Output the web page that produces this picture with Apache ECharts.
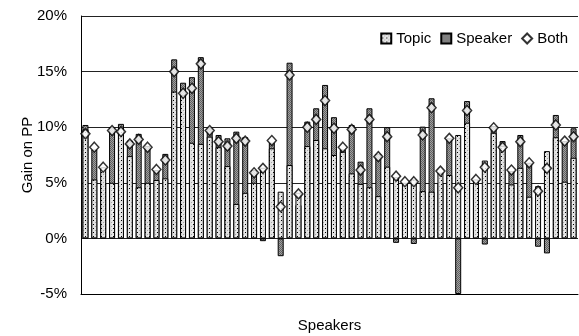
<!DOCTYPE html>
<html>
<head>
<meta charset="utf-8">
<script src="https://cdn.jsdelivr.net/npm/echarts@6/dist/echarts.min.js"></script>
<style>
  html, body { margin: 0; padding: 0; background: #fff; }
  #chart { width: 579px; height: 336px; }
</style>
</head>
<body>
<div id="chart"></div>
<script>
// one bar group per speaker (no labels on the x axis)
const speakers = [
    'S1', 'S2', 'S3', 'S4', 'S5', 'S6', 'S7', 'S8', 'S9', 'S10', 'S11', 'S12', 'S13', 'S14',
    'S15', 'S16', 'S17', 'S18', 'S19', 'S20', 'S21', 'S22', 'S23', 'S24', 'S25', 'S26', 'S27', 'S28',
    'S29', 'S30', 'S31', 'S32', 'S33', 'S34', 'S35', 'S36', 'S37', 'S38', 'S39', 'S40', 'S41', 'S42',
    'S43', 'S44', 'S45', 'S46', 'S47', 'S48', 'S49', 'S50', 'S51', 'S52', 'S53', 'S54', 'S55', 'S56'
];

// gain in %
const topicGain = [
    9.8, 5.3, 6.4, 5.0, 9.9, 7.4, 4.6, 5.0, 5.25, 5.4, 13.2, 12.9, 8.6, 8.5,
    9.15, 8.2, 6.5, 3.1, 4.1, 5.0, 6.35, 8.1, 4.2, 6.6, 4.1, 8.3, 8.85, 8.1,
    7.5, 7.8, 5.85, 4.9, 4.6, 3.8, 6.45, 5.5, 5.0, 5.3, 4.25, 4.2, 5.9, 5.7,
    9.3, 10.4, 5.3, 7.0, 9.5, 8.3, 4.85, 6.35, 3.75, 4.7, 7.85, 9.1, 5.1, 7.25
];
const speakerGain = [
    10.2, 8.0, 5.0, 10.0, 10.3, 8.8, 9.4, 8.3, 6.15, 7.6, 16.1, 14.0, 14.5, 16.3,
    9.9, 9.3, 9.0, 9.6, 9.1, 6.15, -0.25, 8.6, -1.6, 15.8, 3.0, 10.5, 11.7, 13.8,
    10.9, 8.0, 10.2, 6.9, 11.7, 7.6, 10.0, -0.4, 4.5, -0.5, 10.05, 12.6, 5.0, 9.0,
    -5.0, 12.35, 4.8, -0.55, 10.1, 8.75, 6.05, 9.3, 6.8, -0.75, -1.35, 11.1, 8.75, 9.9
];
const bothGain = [
    9.4, 8.2, 6.4, 9.7, 9.6, 8.5, 8.9, 8.2, 6.2, 7.05, 15.0, 13.05, 13.5, 15.7,
    9.7, 8.7, 8.3, 9.0, 8.75, 5.9, 6.3, 8.8, 2.85, 14.7, 4.0, 10.0, 10.7, 12.4,
    9.9, 8.2, 9.8, 6.15, 10.7, 7.35, 9.15, 5.6, 5.1, 5.1, 9.3, 11.75, 6.05, 9.0,
    4.55, 11.5, 5.3, 6.4, 9.95, 8.2, 6.15, 8.7, 6.8, 4.25, 6.3, 10.2, 8.75, 9.15
];

const yTicks = { min: -5, max: 20, step: 5 };

// small fill patterns, like the printed original
function makePattern(size, draw) {
    const c = document.createElement('canvas');
    c.width = size;
    c.height = size;
    draw(c.getContext('2d'));
    return { image: c, repeat: 'repeat' };
}

const dotted = makePattern(4, ctx => {
    ctx.fillStyle = '#e2e2e2';
    ctx.fillRect(0, 0, 4, 4);
    ctx.fillStyle = '#000';
    ctx.fillRect(1, 0, 1, 1);
    ctx.fillStyle = '#a8a8a8';
    ctx.fillRect(3, 2, 1, 1);
    ctx.fillStyle = '#f4f4f4';
    ctx.fillRect(0, 3, 1, 1);
});

const hatched = makePattern(2, ctx => {
    ctx.fillStyle = '#a0a0a0';
    ctx.fillRect(0, 0, 2, 2);
    ctx.fillStyle = '#606060';
    ctx.fillRect(0, 0, 1, 1);
    ctx.fillRect(1, 1, 1, 1);
});

const font = "'Liberation Sans', Arial, sans-serif";

const chart = echarts.init(document.getElementById('chart'));

chart.setOption({
    animation: false,
    textStyle: { fontFamily: font, color: '#000' },
    grid: { left: 81, right: 1, top: 16, bottom: 42, outerBoundsMode: 'none' },
    legend: {
        right: 6,
        top: 26,
        itemWidth: 10,
        itemHeight: 10,
        itemGap: 9,
        textStyle: { fontFamily: font, fontSize: 15, color: '#000' },
        data: [
            { name: 'Topic', icon: 'rect' },
            { name: 'Speaker', icon: 'rect' },
            { name: 'Both', icon: 'diamond' }
        ]
    },
    xAxis: {
        type: 'category',
        data: speakers,
        name: 'Speakers',
        nameLocation: 'middle',
        nameGap: 24,
        nameMoveOverlap: false,
        nameTextStyle: { fontFamily: font, fontSize: 15, color: '#000' },
        axisLine: { onZero: false, lineStyle: { color: '#000', width: 1 } },
        axisTick: { show: false },
        axisLabel: { show: false },
        splitLine: { show: false }
    },
    yAxis: {
        type: 'value',
        min: yTicks.min,
        max: yTicks.max,
        interval: yTicks.step,
        name: 'Gain on PP',
        nameLocation: 'middle',
        nameGap: 46,
        nameMoveOverlap: false,
        nameTextStyle: { fontFamily: font, fontSize: 15, color: '#000' },
        axisLine: { show: true, lineStyle: { color: '#000', width: 1 } },
        axisTick: { show: false },
        axisLabel: {
            fontFamily: font,
            fontSize: 15,
            color: '#000',
            margin: 14,
            formatter: v => v + '%'
        },
        splitLine: { lineStyle: { color: '#222', width: 1 } }
    },
    series: [
        {
            name: 'Speaker',
            type: 'bar',
            data: speakerGain,
            barWidth: 6,
            itemStyle: { color: hatched, borderColor: '#000', borderWidth: 1 }
        },
        {
            name: 'Topic',
            type: 'bar',
            data: topicGain,
            barWidth: 6,
            barGap: '-100%',
            itemStyle: { color: dotted, borderColor: '#000', borderWidth: 1 }
        },
        {
            name: 'Both',
            type: 'scatter',
            data: bothGain,
            symbol: 'diamond',
            symbolSize: [9, 10],
            z: 5,
            itemStyle: { color: '#fff', borderColor: '#000', borderWidth: 1.5 }
        }
    ]
});
</script>
</body>
</html>
